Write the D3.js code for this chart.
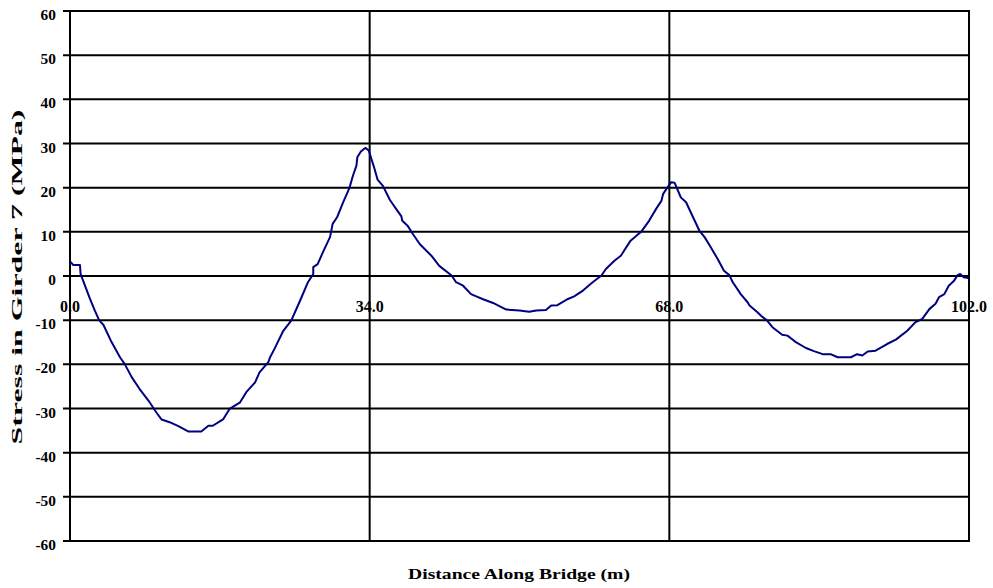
<!DOCTYPE html>
<html lang="en">
<head>
<meta charset="utf-8">
<title>Stress in Girder 7</title>
<script src="https://cdn.jsdelivr.net/npm/d3@7"></script>
<style>
  body { margin: 0; background: #fff; }
  .grid line { stroke: #000; stroke-width: 2px; }
  .lbl { font-family: "Liberation Serif", "Times New Roman", serif; font-weight: bold; fill: #000; }
</style>
</head>
<body>
<svg id="chart" width="993" height="588"></svg>
<script>

// distance along bridge (m) and stress (MPa)
var dist = [0, 0.37, 1.13, 1.2, 1.7, 2.27, 2.83, 3.3, 3.8, 4.7, 5.67, 6.2, 7.0, 7.9, 8.9, 9.8, 10.4, 11.3, 12.3, 13.4,
  14.9, 15.7, 16.2, 17.4, 18.1, 19.3, 20.0, 21.0, 21.5, 22.5, 22.7, 23.2, 24.2, 25.1, 26.1, 27.0, 27.6, 27.6, 28.1, 28.7,
  29.5, 29.8, 30.3, 31.0, 31.7, 32.1, 32.5, 32.6, 33.0, 33.5, 33.9, 34.2, 34.5, 34.9, 35.5, 36.3, 37.0, 37.6, 37.7, 38.3,
  38.9, 39.7, 41.0, 41.9, 43.3, 43.8, 44.6, 45.5, 46.1, 46.8, 48.0, 49.5, 51.0, 52.1, 52.9, 54.0, 54.6, 55.3, 56.5, 57.2,
  58.2, 59.3, 60.3, 60.8, 61.8, 62.5, 63.6, 64.8, 65.7, 66.5, 67.1, 67.3, 67.8, 68.2, 68.6, 68.9, 69.3, 69.9, 70.6, 71.4,
  72.0, 72.7, 73.5, 74.2, 74.8, 75.2, 76.1, 76.9, 77.1, 78.0, 78.4, 79.1, 79.7, 80.8, 81.4, 82.3, 83.5, 84.4, 85.4, 86.3,
  87.1, 88.6, 89.3, 89.9, 90.5, 91.4, 92.7, 93.7, 95.0, 95.9, 96.7, 97.5, 98.2, 98.6, 99.2, 99.7, 100.3, 100.7, 101.0, 101.4,
  101.9, 102.0];
var stress = [3.3, 2.5, 2.5, 0.5, -2.2, -5.2, -7.9, -10.0, -11.1, -14.9, -18.4, -19.9, -22.9, -25.6, -28.2, -30.9, -32.5, -33.1, -34.0, -35.2,
  -35.2, -33.9, -33.9, -32.4, -30.1, -28.6, -26.3, -24.1, -21.8, -19.5, -18.4, -16.5, -12.4, -10.1, -5.6, -1.4, 0.45, 2.0, 2.7, 5.4,
  8.8, 11.8, 13.3, 16.7, 19.9, 22.7, 25.0, 26.9, 28.2, 29.0, 28.4, 26.5, 24.6, 21.8, 20.4, 17.2, 15.2, 13.5, 12.5, 11.4,
  9.5, 7.2, 4.6, 2.3, 0.1, -1.4, -2.2, -4.1, -4.6, -5.2, -6.1, -7.6, -7.8, -8.1, -7.8, -7.7, -6.7, -6.6, -5.2, -4.6,
  -3.3, -1.4, 0.1, 1.6, 3.5, 4.6, 8.0, 10.0, 12.5, 15.2, 17.0, 18.6, 20.1, 21.2, 21.1, 19.7, 17.8, 16.7, 13.7, 10.3,
  8.8, 6.5, 3.8, 1.2, 0.2, -1.4, -4.1, -6.0, -6.7, -8.2, -9.0, -10.1, -11.6, -13.3, -13.5, -14.9, -16.3, -17.0, -17.7, -17.7,
  -18.4, -18.4, -17.7, -18.0, -17.1, -16.9, -15.4, -14.4, -12.4, -10.5, -9.7, -7.5, -6.3, -4.8, -4.1, -2.2, -1.1, 0.2, 0.45, -0.3,
  -0.45, -0.45];

var xTicks = [0, 34, 68, 102];
var yTicks = [60, 50, 40, 30, 20, 10, 0, -10, -20, -30, -40, -50, -60];

var svg = d3.select("#chart");
var plotL = 70, plotR = 969, plotT = 11, plotB = 541;

var x = d3.scaleLinear().domain([0, 102]).range([plotL, plotR]);
var y = d3.scaleLinear().domain([-60, 60]).range([plotB, plotT]);

var grid = svg.append("g").attr("class", "grid");

// horizontal grid lines + small tick stubs on the left
grid.selectAll("line.h")
  .data(yTicks)
  .enter().append("line")
    .attr("class", "h")
    .attr("x1", plotL - 7)
    .attr("x2", plotR)
    .attr("y1", function(d) { return y(d); })
    .attr("y2", function(d) { return y(d); });

// vertical lines (frame + span boundaries)
grid.selectAll("line.v")
  .data(xTicks)
  .enter().append("line")
    .attr("class", "v")
    .attr("x1", function(d) { return x(d); })
    .attr("x2", function(d) { return x(d); })
    .attr("y1", y(60) - 1)
    .attr("y2", y(-60) + 1);

// y tick labels
svg.append("g").selectAll("text")
  .data(yTicks)
  .enter().append("text")
    .attr("class", "lbl")
    .attr("text-anchor", "end")
    .attr("font-size", 14)
    .attr("transform", function(d) { return "translate(56," + (y(d) + 9) + ") scale(1.1,1)"; })
    .text(function(d) { return d; });

// x tick labels, sitting under the zero line
svg.append("g").selectAll("text")
  .data(xTicks)
  .enter().append("text")
    .attr("class", "lbl")
    .attr("text-anchor", "middle")
    .attr("font-size", 16)
    .attr("x", function(d) { return x(d); })
    .attr("y", y(0) + 36)
    .text(function(d) { return d.toFixed(1); });

// the stress line
var line = d3.line()
  .x(function(d, i) { return x(dist[i]); })
  .y(function(d, i) { return y(stress[i]); });

svg.append("path")
  .datum(stress)
  .attr("fill", "none")
  .attr("stroke", "#000080")
  .attr("stroke-width", 2)
  .attr("stroke-linejoin", "round")
  .attr("d", line);

// axis titles
svg.append("text")
  .attr("class", "lbl")
  .attr("font-size", 15)
  .attr("text-anchor", "middle")
  .attr("x", 519)
  .attr("y", 579)
  .attr("textLength", 222)
  .attr("lengthAdjust", "spacingAndGlyphs")
  .text("Distance Along Bridge (m)");

svg.append("text")
  .attr("class", "lbl")
  .attr("font-size", 15)
  .attr("text-anchor", "middle")
  .attr("transform", "translate(22,277) rotate(-90)")
  .attr("textLength", 335)
  .attr("lengthAdjust", "spacingAndGlyphs")
  .text("Stress in Girder 7 (MPa)");

</script>
</body>
</html>
